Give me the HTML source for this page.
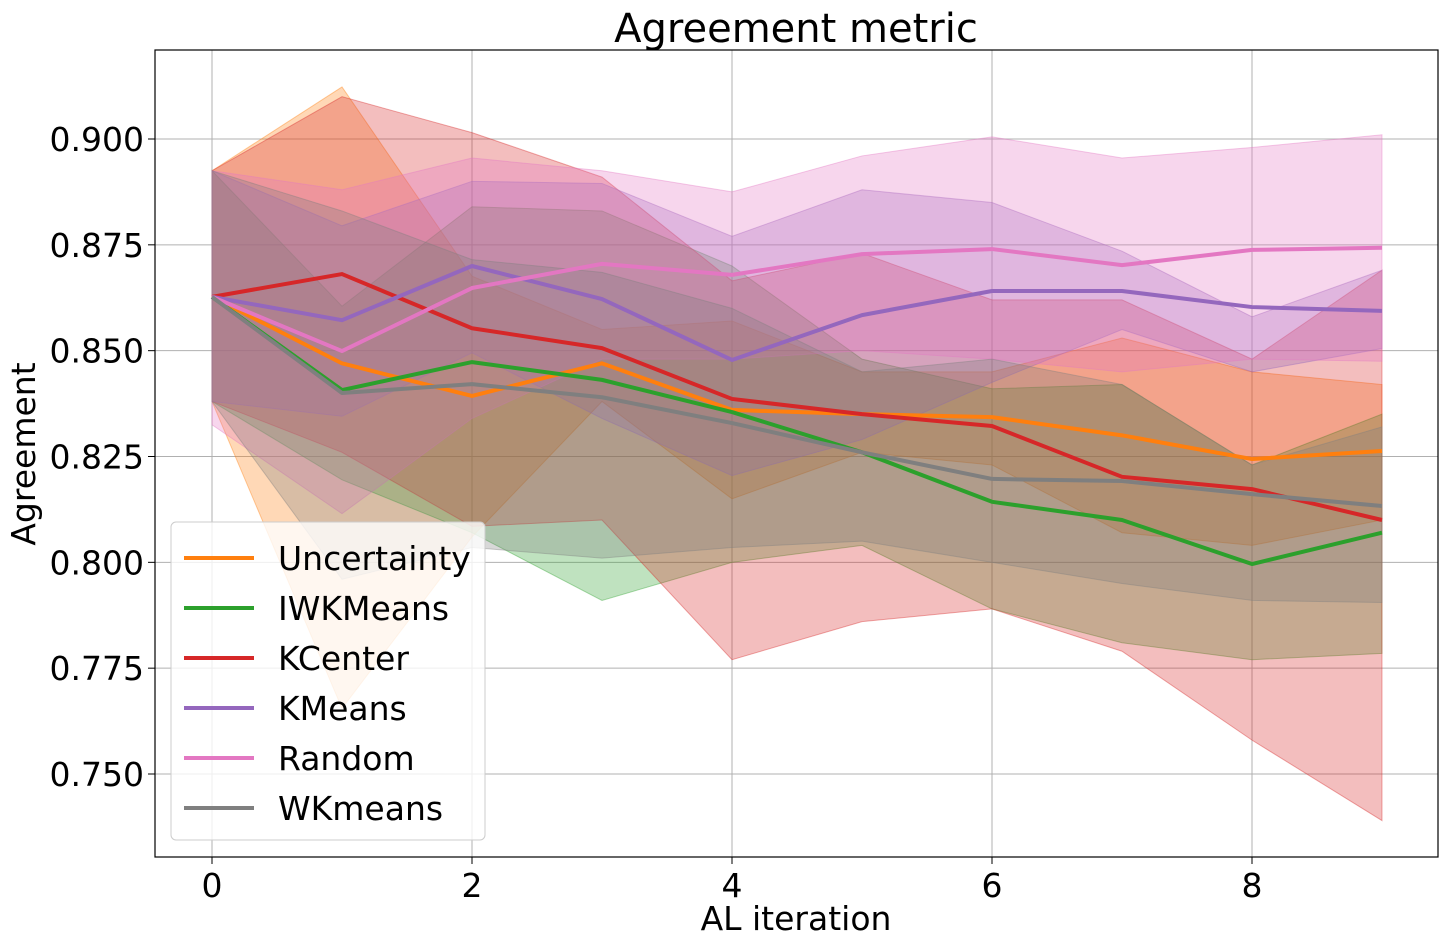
<!DOCTYPE html>
<html><head><meta charset="utf-8"><style>
body{margin:0;background:#fff;}
svg{display:block;font-family:"DejaVu Sans","Liberation Sans",sans-serif;}
</style></head><body>
<svg id="chart" width="1448" height="948"></svg>
<script>
const xs=[0,1,2,3,4,5,6,7,8,9];
const xTicks=[0,2,4,6,8];
const yTicks=[0.750,0.775,0.800,0.825,0.850,0.875,0.900];
const seriesNames=["Uncertainty","IWKMeans","KCenter","KMeans","Random","WKmeans"];
const seriesColors=["#ff7f0e","#2ca02c","#d62728","#9467bd","#e377c2","#7f7f7f"];
const uncertaintyMean=[0.8627,0.847,0.8393,0.847,0.836,0.835,0.8343,0.830,0.8244,0.8263];
const uncertaintyHi=[0.8925,0.9123,0.8676,0.855,0.857,0.845,0.845,0.853,0.845,0.842];
const uncertaintyLo=[0.838,0.7655,0.806,0.838,0.815,0.826,0.823,0.807,0.804,0.810];
const iwkMean=[0.8627,0.8407,0.8473,0.8431,0.8355,0.826,0.8143,0.810,0.7996,0.807];
const iwkHi=[0.8925,0.8605,0.884,0.883,0.870,0.848,0.841,0.842,0.823,0.835];
const iwkLo=[0.838,0.8195,0.807,0.791,0.800,0.804,0.789,0.781,0.777,0.7785];
const kcenterMean=[0.8627,0.8681,0.8553,0.8506,0.8386,0.835,0.8322,0.8202,0.8173,0.810];
const kcenterHi=[0.8925,0.910,0.9015,0.891,0.8665,0.873,0.862,0.862,0.848,0.869];
const kcenterLo=[0.838,0.826,0.8085,0.810,0.777,0.786,0.789,0.779,0.758,0.739];
const kmeansMean=[0.8627,0.8572,0.870,0.8622,0.8478,0.8584,0.8641,0.8641,0.8603,0.8594];
const kmeansHi=[0.8925,0.8795,0.890,0.8895,0.877,0.888,0.885,0.8735,0.858,0.869];
const kmeansLo=[0.838,0.8345,0.8495,0.834,0.8205,0.829,0.8425,0.855,0.845,0.8505];
const randomMean=[0.8627,0.8499,0.8648,0.8705,0.8679,0.8728,0.874,0.8702,0.8738,0.8743];
const randomHi=[0.8925,0.888,0.8955,0.8925,0.8875,0.896,0.9005,0.8955,0.898,0.901];
const randomLo=[0.8325,0.8115,0.834,0.848,0.848,0.850,0.848,0.845,0.848,0.8475];
const wkMean=[0.8627,0.840,0.8421,0.839,0.8329,0.826,0.8197,0.8192,0.8161,0.8133];
const wkHi=[0.8925,0.883,0.8715,0.8685,0.860,0.845,0.848,0.842,0.823,0.832];
const wkLo=[0.838,0.796,0.8035,0.801,0.8035,0.805,0.800,0.795,0.791,0.7905];
const means=[uncertaintyMean,iwkMean,kcenterMean,kmeansMean,randomMean,wkMean];
const his=[uncertaintyHi,iwkHi,kcenterHi,kmeansHi,randomHi,wkHi];
const los=[uncertaintyLo,iwkLo,kcenterLo,kmeansLo,randomLo,wkLo];

const L=155,R=1438,T=50,B=857;
const X=v=>212+v*130;
const Y=v=>139+(0.9-v)*4233.33;
const NS="http://www.w3.org/2000/svg";
const svg=document.getElementById('chart');
function mk(tag,attrs,parent){const e=document.createElementNS(NS,tag);for(const k in attrs)e.setAttribute(k,attrs[k]);(parent||svg).appendChild(e);return e;}

const grid=mk('g',{});


xTicks.forEach(t=>{mk('line',{x1:X(t),x2:X(t),y1:T,y2:B,stroke:'#b0b0b0','stroke-width':1},grid);});
yTicks.forEach(t=>{mk('line',{x1:L,x2:R,y1:Y(t),y2:Y(t),stroke:'#b0b0b0','stroke-width':1},grid);});

seriesNames.forEach((n,i)=>{
  const up=xs.map((x,j)=>X(x)+','+Y(his[i][j]));
  const dn=xs.map((x,j)=>X(x)+','+Y(los[i][j])).reverse();
  const p=mk('polygon',{points:up.concat(dn).join(' '),fill:seriesColors[i],'fill-opacity':0.3,stroke:seriesColors[i],'stroke-opacity':0.4});
  
  
});
seriesNames.forEach((n,i)=>{
  const pl=mk('polyline',{points:xs.map((x,j)=>X(x)+','+Y(means[i][j])).join(' '),fill:'none',stroke:seriesColors[i],'stroke-width':4,'stroke-linejoin':'round'});
  
  
});

const frame=mk('rect',{x:L,y:T,width:R-L,height:B-T,fill:'none',stroke:'#000','stroke-width':1.2});



xTicks.forEach(t=>{
  mk('line',{x1:X(t),x2:X(t),y1:B,y2:B+7,stroke:'#000'});
  const tx=mk('text',{x:X(t),y:B+40,'text-anchor':'middle','font-size':33});
  tx.textContent=t;
  
  
});
yTicks.forEach(t=>{
  mk('line',{x1:L-7,x2:L,y1:Y(t),y2:Y(t),stroke:'#000'});
  const tx=mk('text',{x:L-11,y:Y(t)+12,'text-anchor':'end','font-size':33});
  tx.textContent=t.toFixed(3);
  
  
});
const title=mk('text',{x:796,y:42,'text-anchor':'middle','font-size':40});
title.textContent='Agreement metric';


const xl=mk('text',{x:796,y:930,'text-anchor':'middle','font-size':33});
xl.textContent='AL iteration';


const yl=mk('text',{x:0,y:0,'text-anchor':'middle','font-size':33,transform:'translate(35,454) rotate(-90)'});
yl.textContent='Agreement';



const lg=mk('g',{});


mk('rect',{x:171,y:522,width:314,height:318,rx:5,fill:'#fff','fill-opacity':0.8,stroke:'#ccc'},lg);
seriesNames.forEach((n,i)=>{
  const y=558+i*50;
  const e=mk('g',{},lg);
  
  
  mk('line',{x1:184,x2:254,y1:y,y2:y,stroke:seriesColors[i],'stroke-width':4},e);
  const t=mk('text',{x:278,y:y+12,'font-size':33},e);
  t.textContent=n;
});
</script>
</body></html>
